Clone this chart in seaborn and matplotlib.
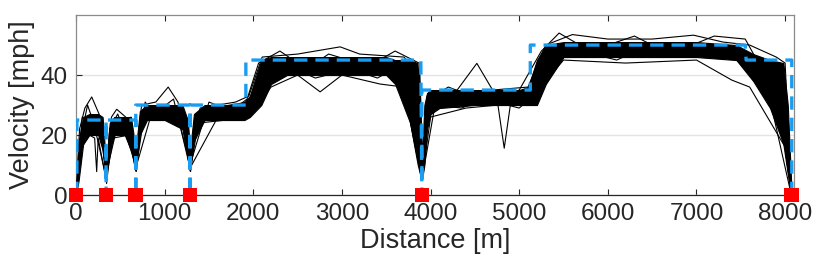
import matplotlib
matplotlib.use('Agg')
import matplotlib.pyplot as plt
import seaborn as sns
import pandas as pd

# Speed limit profile (distance [m], limit [mph])
limit_dist = [10, 10, 339, 339, 339, 674, 674, 674, 1287, 1287, 1287, 1916, 1916, 3890, 3902, 3902, 5125, 5125, 7550, 7560, 8075, 8075]
limit_mph = [0, 25, 25, 0, 25, 25, 0, 30, 30, 0, 30, 30, 45, 45, 0, 35, 35, 50, 50, 45, 45, 0]

# Stop locations [m]
stop_dist = [0, 339, 674, 1287, 3902, 8075]

# Envelope of the dense bundle of runs
env_dist = [0, 30, 80, 150, 250, 300, 339, 380, 430, 550, 620, 674, 720, 800, 1000, 1200, 1260,
            1287, 1330, 1450, 1700, 1900, 1960, 2090, 2200, 2380, 3000, 3500, 3600, 3770, 3850,
            3880, 3902, 3930, 3960, 4000, 4100, 4500, 5000, 5100, 5200, 5300, 5500, 6000, 7000,
            7450, 7640, 7830, 7980, 8030, 8070]
env_low = [0, 5, 17, 20, 20, 15, 4, 15, 20, 20, 15, 8, 20, 25, 25, 22, 12,
           8, 18, 25, 25, 25, 26, 30, 37, 40, 40, 40, 37, 24, 12,
           8, 5, 10, 22, 27, 29, 30, 30, 30, 30, 37, 46, 46, 46,
           45, 38, 29, 17, 7, 0]
env_high = [2, 18, 26, 27, 27, 26, 10, 24, 26, 26, 26, 15, 28, 30, 30, 30, 25,
            15, 27, 30, 30, 31, 33, 45, 46, 46, 46, 46, 45, 45, 44,
            35, 12, 30, 34, 35, 35, 35, 35, 36, 45, 50, 51, 51, 51,
            50, 47, 45, 44, 30, 3]

# A few individual runs that stray outside the bundle
run_hi_dist = [0, 40, 100, 177, 260, 339, 400, 459, 560, 674, 740, 900, 1040, 1150, 1287, 1400,
               1800, 1950, 2100, 2500, 2980, 3200, 3700, 3880, 3902, 3960, 4300, 4522, 4700, 5100,
               5300, 5600, 6000, 6500, 6966, 7300, 7600, 7900, 8000, 8070]
run_hi_mph = [0, 22, 29, 32.7, 27, 8, 26, 28.6, 26, 12, 30, 31, 36, 31, 14, 29,
              31, 33, 46, 47, 49.4, 47, 46, 40, 12, 33, 35, 43.9, 35, 36,
              50, 53.5, 52, 52, 53.3, 51, 50, 46, 44, 0]
run_lo_dist = [0, 50, 150, 210, 233, 250, 339, 420, 600, 674, 760, 1000, 1220, 1287, 1380, 1700,
               1950, 2200, 2500, 2754, 3000, 3431, 3700, 3860, 3902, 4000, 4400, 4760, 4831, 4900,
               5150, 5300, 5500, 6200, 7000, 7400, 7600, 7800, 8000, 8070]
run_lo_mph = [0, 15, 20, 19, 7.8, 19, 5, 19, 20, 8, 25, 26, 22, 8, 24, 25,
              26, 36, 40, 34.4, 40, 37, 36, 10, 5, 26, 29, 30, 15.6, 30,
              30, 38, 45, 44, 45, 38.3, 36, 26, 16, 0]
run_mid_dist = [0, 60, 130, 200, 339, 380, 470, 540, 674, 780, 880, 1100, 1287, 1500, 1750, 1930,
                2060, 2300, 2600, 2850, 3300, 3600, 3870, 3902, 3980, 4200, 4650, 5000, 5250, 5450,
                5800, 6300, 6700, 7200, 7550, 7700, 7900, 8050, 8070]
run_mid_mph = [0, 20, 30, 24, 6, 22, 27, 22, 10, 31, 27, 32, 10, 31, 28, 32,
               44, 48, 42, 47, 43, 48, 44, 6, 32, 36, 31, 35, 48, 54,
               48, 53, 47, 53, 52, 44, 40, 12, 0]
run_wob_dist = [0, 70, 190, 280, 339, 450, 620, 674, 850, 1150, 1287, 1600, 1900, 2000, 2150,
                2400, 2700, 3100, 3400, 3650, 3902, 4050, 4350, 4600, 5000, 5200, 5400, 5700,
                6100, 6400, 6900, 7350, 7500, 7700, 7850, 8070]
run_wob_mph = [0, 26, 23, 21, 7, 21, 26, 9, 27, 26, 9, 26, 27, 33, 40,
               43, 39, 42, 39, 43, 5, 30, 29, 32, 29, 34, 45, 48,
               45, 49, 46, 48, 44, 36, 29, 0]

runs = pd.concat([
    pd.DataFrame({'dist': run_hi_dist, 'mph': run_hi_mph, 'run': 'hi'}),
    pd.DataFrame({'dist': run_lo_dist, 'mph': run_lo_mph, 'run': 'lo'}),
    pd.DataFrame({'dist': run_mid_dist, 'mph': run_mid_mph, 'run': 'mid'}),
    pd.DataFrame({'dist': run_wob_dist, 'mph': run_wob_mph, 'run': 'wob'}),
])
limit_df = pd.DataFrame({'dist': limit_dist, 'mph': limit_mph})
stops_df = pd.DataFrame({'dist': stop_dist, 'mph': [0] * len(stop_dist)})

sns.set_theme(style='white')
plt.rcParams['font.family'] = ['Liberation Sans', 'DejaVu Sans']
text_col = '#262626'

fig = plt.figure(figsize=(8.3, 2.79), dpi=100)
ax = fig.add_axes([0.0916, 0.301, 0.865, 0.645])

ax.yaxis.grid(True, color='#e3e3e3', linewidth=1)
ax.set_axisbelow(True)

ax.fill_between(env_dist, env_low, env_high, color='black', linewidth=0.8, zorder=2)
sns.lineplot(data=runs, x='dist', y='mph', units='run', estimator=None, sort=False,
             color='black', linewidth=0.8, ax=ax, zorder=3)
sns.lineplot(data=limit_df, x='dist', y='mph', estimator=None, sort=False, color='#1a9cf0',
             linewidth=2.4, ax=ax, zorder=4)
ax.lines[-1].set_dashes((4, 2.4))
sns.scatterplot(data=stops_df, x='dist', y='mph', marker='s', s=110, color='#ff0000',
                edgecolor='none', ax=ax, zorder=5, clip_on=False)

ax.set_xlim(0, 8100)
ax.set_ylim(0, 60)
ax.set_xticks(range(0, 9000, 1000))
ax.set_yticks([0, 20, 40])
ax.tick_params(axis='both', direction='in', length=4, width=0.8, color=text_col,
               labelsize=17.5, labelcolor=text_col, pad=6)
ax.tick_params(axis='x', top=True, bottom=True)
ax.tick_params(axis='y', left=True)

for side in ['top', 'right', 'left']:
    ax.spines[side].set_color('#8a8a8a')
ax.spines['bottom'].set_color(text_col)
for s in ax.spines.values():
    s.set_linewidth(0.9)

ax.set_xlabel('Distance [m]', fontsize=19.5, color=text_col, labelpad=2)
ax.set_ylabel('Velocity [mph]', fontsize=19.5, color=text_col, labelpad=4)

fig.savefig('out.png', dpi=100)
